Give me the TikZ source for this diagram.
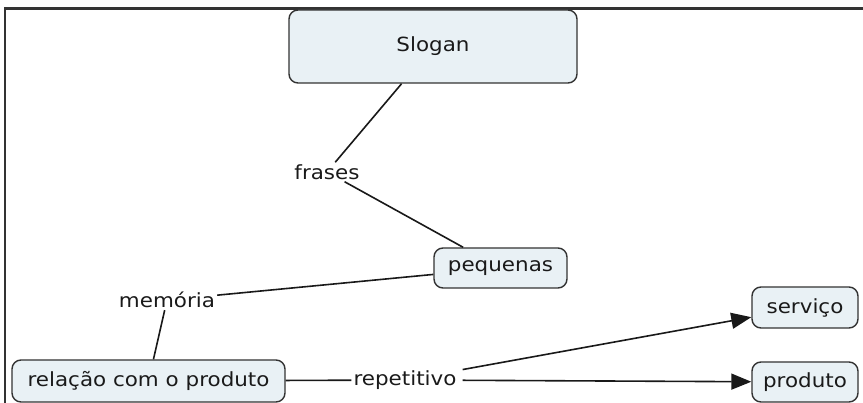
\documentclass[tikz,border=0pt]{standalone}
\usepackage{fontspec}
\setmainfont{DejaVu Sans}[FakeStretch=1.1]
\usetikzlibrary{arrows.meta}
\definecolor{boxfill}{HTML}{E9F1F5}
\definecolor{boxline}{HTML}{333333}
\definecolor{txt}{HTML}{1A1A1A}
\tikzset{
  concept/.style={draw=boxline, line width=1.4pt, fill=boxfill, rounded corners=9pt,
    text=txt, font=\fontsize{19.5}{23}\selectfont, inner sep=0pt, anchor=center},
  linkword/.style={text=txt, font=\fontsize{19.5}{23}\selectfont, inner sep=2pt, fill=white},
  conn/.style={line width=1.6pt, draw=black!90},
  arr/.style={conn, -{Triangle[length=20pt,width=16pt]}},
}
\begin{document}
\begin{tikzpicture}[x=1pt,y=-1pt]
\useasboundingbox (0,0) rectangle (863,403);
\fill[white] (0,0) rectangle (863,403);
% frame
\draw[line width=2.2pt, black!80] (5,403) -- (5,8.5) -- (863,8.5);

\node[concept, minimum width=288pt, minimum height=73pt] (slogan) at (433,46.5) {Slogan};
\node[concept, minimum width=133pt, minimum height=40pt] (pequenas) at (500.5,268) {pequenas};
\node[concept, minimum width=106pt, minimum height=41pt] (servico) at (805,307.5) {serviço};
\node[concept, minimum width=106pt, minimum height=40pt] (produto) at (805,382) {produto};
\node[concept, minimum width=273pt, minimum height=42pt] (relacao) at (148.5,381) {relação com o produto};

\node[linkword] (frases) at (327,172) {frases};
\node[linkword] (memoria) at (167,300) {memória};
\node[linkword, inner xsep=6pt] (repetitivo) at (405,380) {repetitivo};

\draw[conn] (slogan) -- (frases);
\draw[conn] (frases) -- (pequenas);
\draw[conn] (memoria) -- (pequenas);
\draw[conn] (memoria) -- (relacao);
\draw[conn, shorten >=-4pt] (relacao) -- (repetitivo);
\draw[arr] (repetitivo) -- (servico);
\draw[arr] (repetitivo) -- (produto);
\end{tikzpicture}
\end{document}
